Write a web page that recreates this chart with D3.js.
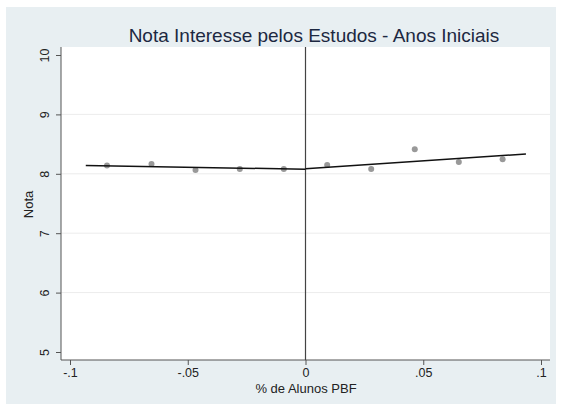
<!DOCTYPE html>
<html>
<head>
<meta charset="utf-8">
<script src="https://cdn.jsdelivr.net/npm/d3@7"></script>
<style>
  body { margin: 0; background: #fff; }
  text { font-family: "Liberation Sans", Arial, sans-serif; }
</style>
</head>
<body>
<div id="chart"></div>
<script>
// binned scatter points (% de Alunos PBF, nota)
const binX = [-0.0843, -0.0654, -0.0467, -0.0279, -0.0092, 0.0092, 0.0279, 0.0464, 0.0651, 0.0837];
const binY = [8.14, 8.165, 8.065, 8.08, 8.08, 8.15, 8.08, 8.415, 8.2, 8.245];

// linear fits on each side of the cutoff
const fitLeft = [[-0.0933, 8.14], [0, 8.077]];
const fitRight = [[0, 8.084], [0.0936, 8.333]];

const xTicks = [-0.1, -0.05, 0, 0.05, 0.1];
const xTickLabels = ['-.1', '-.05', '0', '.05', '.1'];
const yTicks = [5, 6, 7, 8, 9, 10];
const gridY = [6, 7, 8, 9];

const W = 561, H = 410;
const plot = { left: 61, right: 550, top: 47, bottom: 360 };

const svg = d3.select('#chart').append('svg')
    .attr('width', W)
    .attr('height', H);

// outer graph region
svg.append('rect')
    .attr('x', 6).attr('y', 7)
    .attr('width', 550).attr('height', 397)
    .attr('fill', '#e8eff2');

svg.append('rect')
    .attr('x', plot.left).attr('y', plot.top)
    .attr('width', plot.right - plot.left).attr('height', plot.bottom - plot.top)
    .attr('fill', '#fff');

const x = d3.scaleLinear().domain([-0.1, 0.1]).range([70, 541]);
const y = d3.scaleLinear().domain([5, 10]).range([352, 55]);

// gridlines
svg.append('g').selectAll('line')
    .data(gridY)
    .enter().append('line')
    .attr('x1', plot.left).attr('x2', plot.right)
    .attr('y1', d => y(d)).attr('y2', d => y(d))
    .attr('stroke', '#ececec')
    .attr('stroke-width', 1);

// axes
const xAxis = svg.append('g')
    .attr('transform', `translate(0,${plot.bottom})`)
    .call(d3.axisBottom(x).tickValues(xTicks).tickSize(5).tickPadding(3)
        .tickFormat((d, i) => xTickLabels[i]));
xAxis.select('.domain').attr('d', `M${plot.left},0H${plot.right}`);

const yAxis = svg.append('g')
    .attr('transform', `translate(${plot.left},0)`)
    .call(d3.axisLeft(y).tickValues(yTicks).tickSize(5).tickPadding(3)
        .tickFormat(d3.format('d')));
yAxis.select('.domain').attr('d', `M0,${plot.top}V${plot.bottom}`);

[xAxis, yAxis].forEach(g => {
    g.selectAll('.domain, .tick line').attr('stroke', '#555').attr('stroke-width', 1);
    g.selectAll('text').attr('fill', '#222').style('font-size', '12.5px');
});

yAxis.selectAll('.tick text')
    .attr('transform', 'rotate(-90)')
    .attr('x', 0)
    .attr('y', -12)
    .attr('dy', 0)
    .attr('text-anchor', 'middle');

// cutoff line
svg.append('line')
    .attr('x1', x(0)).attr('x2', x(0))
    .attr('y1', plot.top).attr('y2', plot.bottom)
    .attr('stroke', '#444')
    .attr('stroke-width', 1.2);

// scatter
svg.append('g').selectAll('circle')
    .data(binX.map((d, i) => [d, binY[i]]))
    .enter().append('circle')
    .attr('cx', d => x(d[0]))
    .attr('cy', d => y(d[1]))
    .attr('r', 3)
    .attr('fill', '#999');

// fitted lines
const line = d3.line().x(d => x(d[0])).y(d => y(d[1]));
[fitLeft, fitRight].forEach(seg => {
    svg.append('path')
        .attr('d', line(seg))
        .attr('fill', 'none')
        .attr('stroke', '#111')
        .attr('stroke-width', 1.5);
});

// titles
svg.append('text')
    .attr('x', 314).attr('y', 42)
    .attr('text-anchor', 'middle')
    .attr('fill', '#1c2841')
    .style('font-size', '19px')
    .text('Nota Interesse pelos Estudos - Anos Iniciais');

svg.append('text')
    .attr('x', 306).attr('y', 393)
    .attr('text-anchor', 'middle')
    .attr('fill', '#222')
    .style('font-size', '13px')
    .text('% de Alunos PBF');

svg.append('text')
    .attr('transform', `translate(33,${(plot.top + plot.bottom) / 2 + 1}) rotate(-90)`)
    .attr('text-anchor', 'middle')
    .attr('fill', '#222')
    .style('font-size', '13px')
    .text('Nota');
</script>
</body>
</html>
